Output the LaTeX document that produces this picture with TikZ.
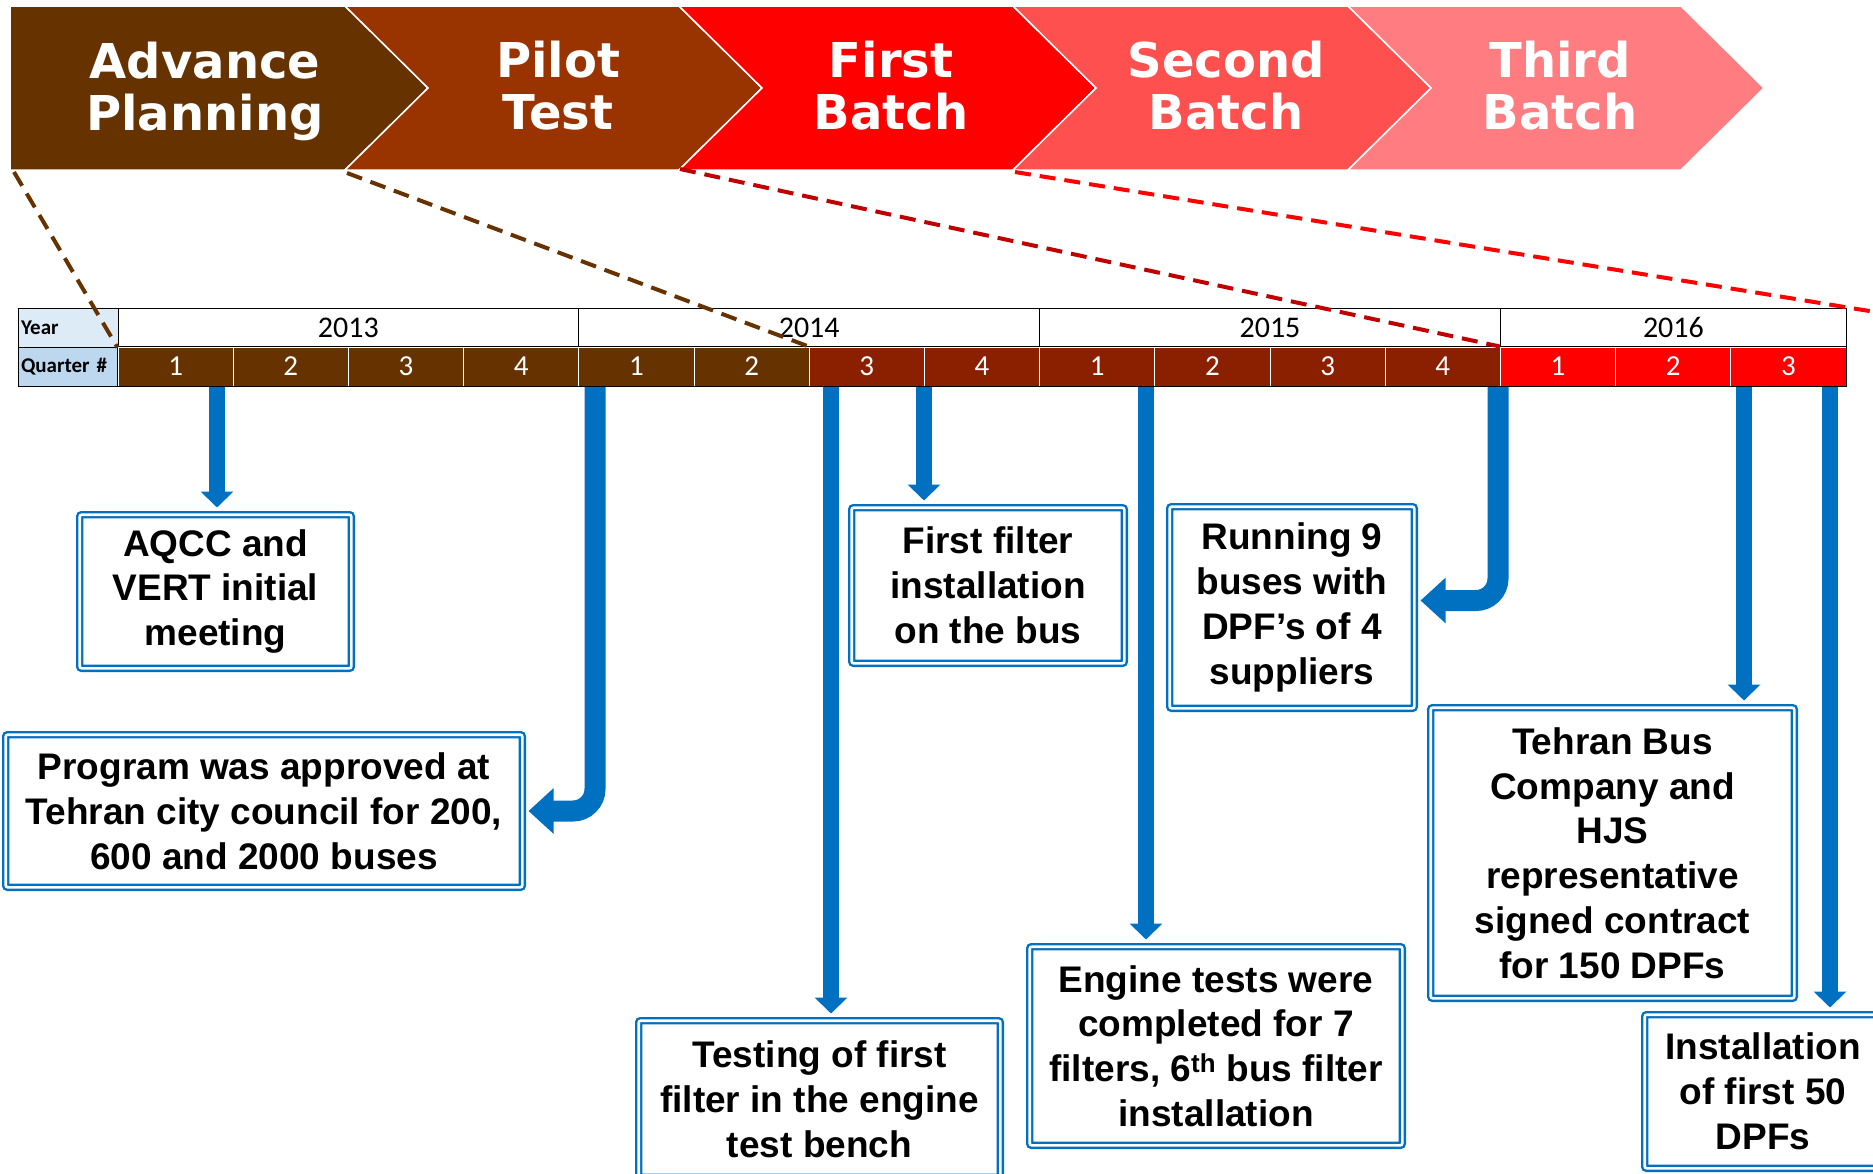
\documentclass[tikz,border=0pt]{standalone}
\usepackage{fontspec}
\setmainfont{Liberation Sans}
\newfontfamily\chevfont{DejaVu Sans}
\newfontfamily\tabfont{Carlito}
\usetikzlibrary{arrows.meta}

\definecolor{planbrown}{HTML}{663300}
\definecolor{pilotbrown}{HTML}{993300}
\definecolor{qtrbrown}{HTML}{8A2000}
\definecolor{firstred}{HTML}{FF0000}
\definecolor{secondred}{HTML}{FF5050}
\definecolor{thirdred}{HTML}{FF7C80}
\definecolor{darkred}{HTML}{C00000}
\definecolor{evblue}{HTML}{0070C0}
\definecolor{yearblue}{HTML}{DDEBF7}
\definecolor{qtrblue}{HTML}{BDD7EE}

\tikzset{
	phase/.style={text=white, align=center, font=\chevfont\bfseries\fontsize{48}{52}\selectfont},
	ycell/.style={draw=black, fill=white, line width=1pt, minimum height=39pt, inner sep=0pt, font=\tabfont\fontsize{30}{32}\selectfont},
	qcell/.style={draw=white, line width=1pt, minimum width=115.2pt, minimum height=39pt, inner sep=0pt, text=white, font=\tabfont\fontsize{29}{31}\selectfont},
	lcell/.style={draw=black, line width=1pt, minimum height=39pt, text width=94pt, align=left, inner sep=3pt, font=\tabfont\bfseries\fontsize{21}{24}\selectfont},
	phaseline/.style={line width=4pt, dash pattern=on 16pt off 9pt},
	evbox/.style={draw=evblue, double=white, double distance=2.6pt, line width=2.4pt, rounded corners=2pt, fill=white, align=center, inner sep=0pt, font=\bfseries\fontsize{37}{44.8}\selectfont},
	evarrow/.style={draw=evblue, line width=16pt, shorten >=6pt, -{Triangle[width=32pt,length=16pt]}},
	bendarrow/.style={draw=evblue, line width=21pt, rounded corners=22pt, shorten >=5pt, -{Triangle[width=44pt,length=25pt]}}
}

\begin{document}
\begin{tikzpicture}[x=1pt,y=-1pt]
	\path[use as bounding box, fill=white] (0,0) rectangle (1873,1173);
	\clip (0,0) rectangle (1873,1173);
	
	\foreach \l/\r/\n/\c in {10/345/0/planbrown, 345/679/83/pilotbrown, 679/1013/83/firstred, 1013/1348/83/secondred, 1348/1681/83/thirdred}
		\filldraw[fill=\c, draw=white, line width=1.5pt] (\l,6) -- (\r,6) -- (\r+83,88) -- (\r,170) -- (\l,170) -- (\l+\n,88) -- cycle;
	
	\node[phase] (plan) at (205,91) {Advance\\Planning};
	\node[phase] (pilot) at (558,86) {Pilot\\Test};
	\node[phase] (first) at (891,86) {First\\Batch};
	\node[phase] (second) at (1226,86) {Second\\Batch};
	\node[phase] (third) at (1560,86) {Third\\Batch};
	
	\node[lcell, fill=yearblue] (lyear) at (68,327.5) {Year};
	\node[lcell, fill=qtrblue] (lquarter) at (68,366.5) {Quarter \#};
	\node[ycell, minimum width=460.8pt] (y2013) at (348.4,327.5) {2013};
	\node[ycell, minimum width=460.8pt] (y2014) at (809.2,327.5) {2014};
	\node[ycell, minimum width=460.8pt] (y2015) at (1270,327.5) {2015};
	\node[ycell, minimum width=345.6pt] (y2016) at (1673.4,327.5) {2016};
	
	\foreach \i in {0,...,14} {
		\pgfmathtruncatemacro{\q}{mod(\i,4)+1}
		\ifnum\i<6 \def\qc{planbrown}\else\ifnum\i<12 \def\qc{qtrbrown}\else\def\qc{firstred}\fi\fi
		\node[qcell, fill=\qc] (q\i) at (175.6+115.2*\i,366.5) {\q};
	}
	\draw[line width=1pt] (q0.north west) rectangle (q14.south east);
	
	\coordinate (planfoot) at (14,172);
	\coordinate (pilotfoot) at (347,173);
	\coordinate (firstfoot) at (680,169);
	\coordinate (secondfoot) at (1015,172);
	\coordinate (farend) at (1900,316);
	
	\path[phaseline, draw=planbrown] (planfoot) edge (y2013.south west);
	\path[phaseline, draw=planbrown] (pilotfoot) edge (q6.north west);
	\path[phaseline, draw=darkred] (firstfoot) edge (q12.north west);
	\path[phaseline, draw=firstred] (secondfoot) edge (farend);
	
	\node[evbox, minimum width=271.6pt, minimum height=153.6pt] (aqcc) at (215.5,591.5) {AQCC and\\VERT initial\\meeting};
	\node[evbox, minimum width=516.6pt, minimum height=152.6pt] (approve) at (264,811) {Program was approved at\\Tehran city council for 200,\\600 and 2000 buses};
	\node[evbox, minimum width=361.6pt, minimum height=156.6pt] (benchtest) at (819.5,1099) {Testing of first\\filter in the engine\\test bench};
	\node[evbox, minimum width=272.6pt, minimum height=155.6pt] (firstfit) at (988,585.5) {First filter\\installation\\on the bus};
	\node[evbox, minimum width=372.6pt, minimum height=198.6pt] (enginetest) at (1216,1046) {Engine tests were\\completed for 7\\filters, 6\textsuperscript{th} bus filter\\installation};
	\node[evbox, minimum width=244.6pt, minimum height=201.6pt] (running) at (1292,607.5) {Running 9\\buses with\\DPF’s of 4\\suppliers};
	\node[evbox, minimum width=363.6pt, minimum height=290.6pt] (contract) at (1612.5,853) {Tehran Bus\\Company and\\HJS\\representative\\signed contract\\for 150 DPFs};
	\node[evbox, minimum width=236.6pt, minimum height=153.6pt] (install) at (1763,1091.5) {Installation\\of first 50\\DPFs};
	
	\coordinate (s1) at (217,387);
	\coordinate (s2) at (595,387);
	\coordinate (s3) at (831,387);
	\coordinate (s4) at (924,387);
	\coordinate (s5) at (1146,387);
	\coordinate (s6) at (1498,387);
	\coordinate (s7) at (1744,387);
	\coordinate (s8) at (1830,387);
	
	\draw[evarrow] (s1) -- (s1 |- aqcc.north);
	\draw[evarrow] (s3) -- (s3 |- benchtest.north);
	\draw[evarrow] (s4) -- (s4 |- firstfit.north);
	\draw[evarrow] (s5) -- (s5 |- enginetest.north);
	\draw[evarrow] (s7) -- (s7 |- contract.north);
	\draw[evarrow] (s8) -- (s8 |- install.north);
	\draw[bendarrow] (s2) |- (approve.east);
	\draw[bendarrow] (s6) |- ([yshift=7pt]running.east);
	
\end{tikzpicture}
\end{document}
